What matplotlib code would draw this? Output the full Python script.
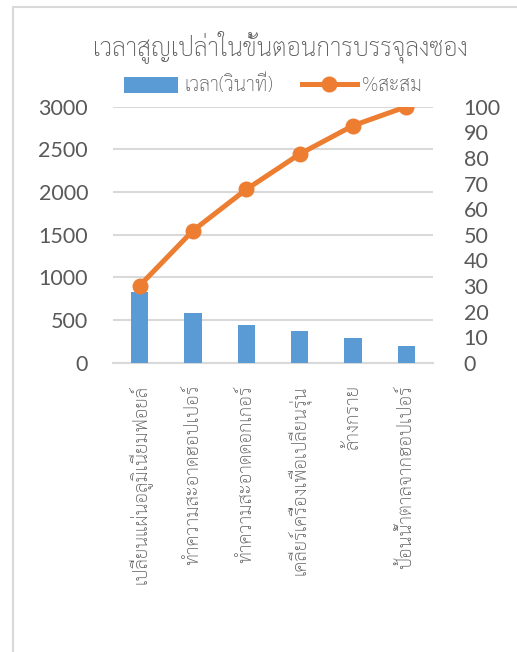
import matplotlib
matplotlib.use("Agg")
import matplotlib.pyplot as plt
from matplotlib.lines import Line2D
from matplotlib.patches import Patch, Rectangle

categories = [
    "เปลี่ยนแผ่นอลูมิเนียมฟอยล์",
    "ทำความสะอาดฮอปเปอร์",
    "ทำความสะอาดดอกเกอร์",
    "เคลียร์เครื่องเพื่อเปลี่ยนรุ่น",
    "ล้างกราย",
    "ป้อนน้ำตาลจากฮอปเปอร์",
]
time_sec = [830, 585, 440, 370, 290, 195]
cum_pct = [30.1, 51.6, 67.7, 81.5, 92.6, 100.0]
left_ticks = [0, 500, 1000, 1500, 2000, 2500, 3000]
right_ticks = list(range(0, 101, 10))
title = "เวลาสูญเปล่าในขั้นตอนการบรรจุลงซอง"
legend_labels = ["เวลา(วินาที)", "%สะสม"]

BLUE = "#5B9BD5"
ORANGE = "#ED7D31"
GRID = "#D9D9D9"
TXT = "#595959"
THAI = ["Sarabun", "DejaVu Sans"]
NUM = ["Lato", "DejaVu Sans"]

W, H = 517, 652
fig = plt.figure(figsize=(W / 100, H / 100), dpi=100)

# chart border (light gray)
fig.patches.append(Rectangle((13 / W, -0.1), 1.2, 1 - 7 / H + 0.1, transform=fig.transFigure,
                             fill=False, edgecolor=GRID, linewidth=1.5))

l, r, t, b = 113, 433, 106.7, 362.7
ax = fig.add_axes([l / W, 1 - b / H, (r - l) / W, (b - t) / H])
ax2 = ax.twinx()

x = list(range(len(categories)))
ax.bar(x, time_sec, width=0.32, color=BLUE, zorder=3)
ax2.plot(x, cum_pct, color=ORANGE, linewidth=3.6, marker="o", markersize=10.5, zorder=4)

ax.set_xlim(-0.5, len(categories) - 0.5)
ax.set_ylim(0, 3000)
ax2.set_ylim(0, 100)
ax.set_yticks(left_ticks)
ax2.set_yticks(right_ticks)
ax.set_yticklabels([str(v) for v in left_ticks], fontsize=15.5, color=TXT, family=NUM)
ax2.set_yticklabels([str(v) for v in right_ticks], fontsize=15.5, color=TXT, family=NUM)
ax.yaxis.grid(True, color=GRID, linewidth=1.5, zorder=0)
ax.set_axisbelow(True)
for a in (ax, ax2):
    for s in a.spines.values():
        s.set_visible(False)
    a.tick_params(length=0)
ax.spines["bottom"].set_visible(True)
ax.spines["bottom"].set_color(GRID)
ax.spines["bottom"].set_linewidth(1.5)
ax.tick_params(axis="y", pad=18)
ax2.tick_params(axis="y", pad=22)

ax.set_xticks(x)
ax.set_xticklabels(categories, rotation=90, fontsize=13.5, color=TXT, family=THAI,
                   fontweight="light", va="top", ha="center")
ax.tick_params(axis="x", pad=16)

fig.text(280 / W, 1 - 47 / H, title, ha="center", va="center", fontsize=17.8,
         color=TXT, family=THAI, fontweight="light")

handles = [Patch(facecolor=BLUE, edgecolor="none"),
           Line2D([0], [0], color=ORANGE, linewidth=3.6, marker="o", markersize=10.5)]
fig.legend(handles, legend_labels, loc="center", bbox_to_anchor=(273 / W, 1 - 85 / H),
           ncol=2, frameon=False, prop={"family": THAI, "size": 14, "weight": "light"},
           labelcolor=TXT, handlelength=2.8, handleheight=0.9, columnspacing=1.5,
           handletextpad=0.3)

fig.savefig("out.png", dpi=100)
